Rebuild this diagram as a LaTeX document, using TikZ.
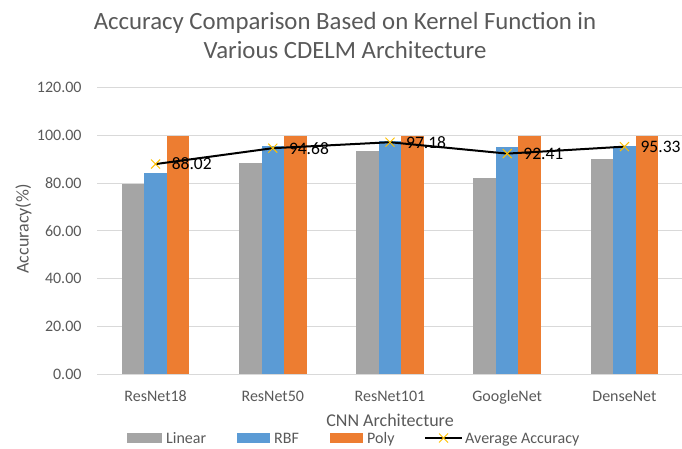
\documentclass[tikz,border=0pt]{standalone}
\usepackage{fontspec}
\setmainfont{Carlito}
\usetikzlibrary{shapes.misc}
\definecolor{lingray}{HTML}{A5A5A5}
\definecolor{rbfblue}{HTML}{5B9BD5}
\definecolor{polyorange}{HTML}{ED7D31}
\definecolor{avgyellow}{HTML}{FFC000}
\definecolor{textgray}{HTML}{595959}
\definecolor{gridgray}{HTML}{D9D9D9}
\begin{document}
\begin{tikzpicture}[x=1pt, y=1pt,
      ticklab/.style={anchor=east, inner sep=0, text=textgray, font=\fontsize{16}{19}\selectfont},
      catlab/.style={anchor=base, inner sep=0, text=textgray, font=\fontsize{16}{19}\selectfont},
      leglab/.style={anchor=base west, inner sep=0, text=textgray, font=\fontsize{16}{19}\selectfont},
      vallab/.style={anchor=west, inner sep=0, xshift=16pt, font=\fontsize{17.5}{21}\selectfont},
      titlelab/.style={anchor=base, inner sep=0, text=textgray, font=\fontsize{24.8}{29}\selectfont},
      gridline/.style={draw=gridgray, line width=1pt},
      avgline/.style={draw=black, line width=2pt, line join=round},
      xmark/.style={draw=avgyellow, cross out, minimum size=8pt, inner sep=0, line width=1pt}]
    \useasboundingbox (0,0) rectangle (682,448);
    % title and axis titles
    \node[titlelab] (title)    at (345,418.5) {Accuracy Comparison Based on Kernel Function in};
    \node[titlelab] (titlebis) at (345,389.5) {Various CDELM Architecture};
    \node[rotate=90, inner sep=0, text=textgray, font=\fontsize{18}{21}\selectfont] (ytitle) at (23.5,219) {Accuracy(\%)};
    \node[catlab, font=\fontsize{18}{21}\selectfont] (xtitle) at (390,21.2) {CNN Architecture};
    \begin{scope}[shift={(0,74)}, y=2.385pt]
      % grid and values on the axis
      \draw[gridline] (97,0) -- (682,0) (97,20) -- (682,20) (97,40) -- (682,40)
        (97,60) -- (682,60) (97,80) -- (682,80) (97,100) -- (682,100) (97,120) -- (682,120);
      \node[ticklab] (t0)   at (81.7,0)   {0.00};
      \node[ticklab] (t20)  at (81.7,20)  {20.00};
      \node[ticklab] (t40)  at (81.7,40)  {40.00};
      \node[ticklab] (t60)  at (81.7,60)  {60.00};
      \node[ticklab] (t80)  at (81.7,80)  {80.00};
      \node[ticklab] (t100) at (81.7,100) {100.00};
      \node[ticklab] (t120) at (81.7,120) {120.00};
      % bars: Linear, RBF, Poly
      \fill[lingray]    (121.85,0) rectangle (144.35,79.80);
      \fill[rbfblue]    (144.35,0) rectangle (166.85,84.26);
      \fill[polyorange] (166.85,0) rectangle (189.35,100);
      \fill[lingray]    (239.05,0) rectangle (261.55,88.34);
      \fill[rbfblue]    (261.55,0) rectangle (284.05,95.70);
      \fill[polyorange] (284.05,0) rectangle (306.55,100);
      \fill[lingray]    (356.25,0) rectangle (378.75,93.70);
      \fill[rbfblue]    (378.75,0) rectangle (401.25,97.84);
      \fill[polyorange] (401.25,0) rectangle (423.75,100);
      \fill[lingray]    (473.45,0) rectangle (495.95,82.03);
      \fill[rbfblue]    (495.95,0) rectangle (518.45,95.20);
      \fill[polyorange] (518.45,0) rectangle (540.95,100);
      \fill[lingray]    (590.65,0) rectangle (613.15,90.29);
      \fill[rbfblue]    (613.15,0) rectangle (635.65,95.70);
      \fill[polyorange] (635.65,0) rectangle (658.15,100);
      % average accuracy
      \coordinate (rn18)  at (155.6,88.02);
      \coordinate (rn50)  at (272.8,94.68);
      \coordinate (rn101) at (390.0,97.18);
      \coordinate (gnet)  at (507.2,92.41);
      \coordinate (dnet)  at (624.4,95.33);
      \draw[avgline] (rn18) -- (rn50) -- (rn101) -- (gnet) -- (dnet);
      \node[xmark] (m18)  at (rn18)  {};
      \node[xmark] (m50)  at (rn50)  {};
      \node[xmark] (m101) at (rn101) {};
      \node[xmark] (mg)   at (gnet)  {};
      \node[xmark] (md)   at (dnet)  {};
      \node[vallab] (v18)  at (rn18)  {88.02};
      \node[vallab] (v50)  at (rn50)  {94.68};
      \node[vallab] (v101) at (rn101) {97.18};
      \node[vallab] (vg)   at (gnet)  {92.41};
      \node[vallab] (vd)   at (dnet)  {95.33};
    \end{scope}
    % category names
    \node[catlab] (c18)  at (155.6,47) {ResNet18};
    \node[catlab] (c50)  at (272.8,47) {ResNet50};
    \node[catlab] (c101) at (390.0,47) {ResNet101};
    \node[catlab] (cg)   at (507.2,47) {GoogleNet};
    \node[catlab] (cd)   at (624.4,47) {DenseNet};
    % legend
    \fill[lingray]    (127,5.3)   rectangle (162,14.7);
    \node[leglab] (llin) at (166,4.8) {Linear};
    \fill[rbfblue]    (236.7,5.3) rectangle (270,14.7);
    \node[leglab] (lrbf) at (274,4.8) {RBF};
    \fill[polyorange] (330,5.3)   rectangle (363,14.7);
    \node[leglab] (lpoly) at (367,4.8) {Poly};
    \coordinate (lega) at (425,10);
    \coordinate (legb) at (462,10);
    \draw[avgline] (lega) -- (legb);
    \node[xmark] (lmark) at (443.5,10) {};
    \node[leglab] (lavg) at (465,4.8) {Average Accuracy};
  \end{tikzpicture}
\end{document}
